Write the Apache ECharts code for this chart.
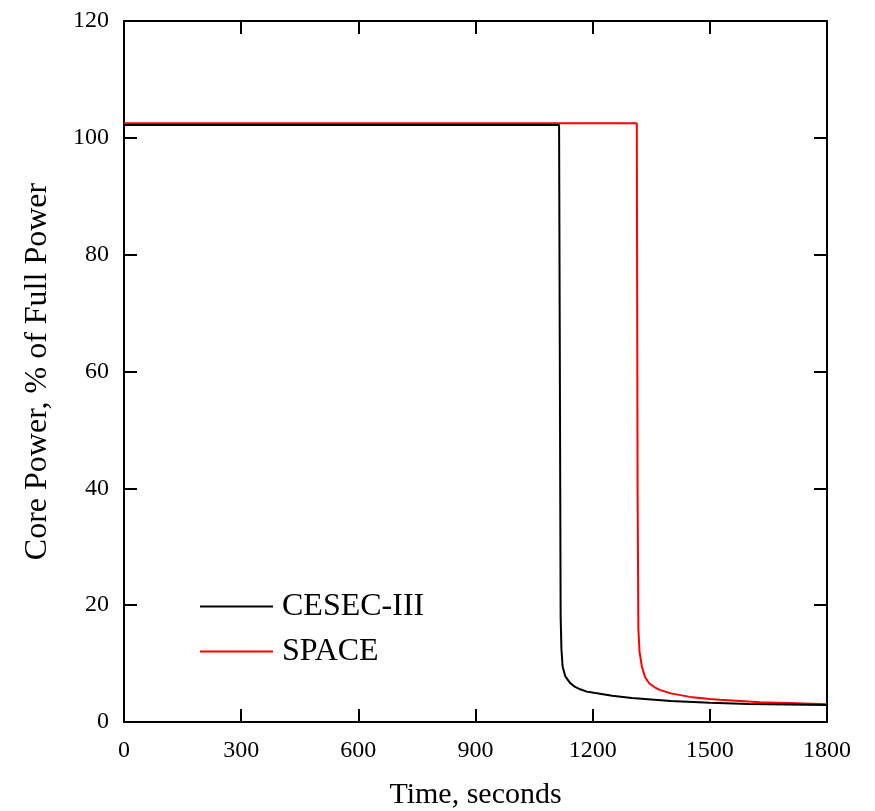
<!DOCTYPE html>
<html>
<head>
<meta charset="utf-8">
<script src="https://cdn.jsdelivr.net/npm/echarts@6/dist/echarts.min.js"></script>
<style>
  html, body { margin: 0; padding: 0; background: #ffffff; }
  #chart { width: 875px; height: 811px; }
</style>
</head>
<body>
<div id="chart"></div>
<script>
// CESEC-III 曲线（时间 s，功率 %）
const cesecTime = [0, 200, 400, 600, 800, 1000, 1114, 1116, 1118, 1120, 1123, 1130, 1142, 1155, 1168, 1185, 1203, 1250, 1300, 1350, 1400, 1500, 1600, 1700, 1800];
const cesecPower = [102.2, 102.2, 102.2, 102.2, 102.2, 102.2, 102.2, 60, 18, 12.5, 9.5, 7.8, 6.7, 6.0, 5.6, 5.2, 5.0, 4.5, 4.1, 3.85, 3.6, 3.3, 3.1, 3.0, 2.9];

// SPACE 曲线
const spaceTime = [0, 400, 800, 1200, 1313, 1315, 1317, 1320, 1326, 1334, 1345, 1360, 1372, 1400, 1449, 1500, 1526, 1600, 1628, 1700, 1800];
const spacePower = [102.5, 102.5, 102.5, 102.5, 102.5, 40, 16, 12, 9.5, 7.7, 6.6, 5.9, 5.5, 4.9, 4.3, 3.95, 3.8, 3.5, 3.4, 3.25, 3.05];

const xTicks = [0, 300, 600, 900, 1200, 1500, 1800];
const yTicks = [0, 20, 40, 60, 80, 100, 120];

const font = '"Liberation Serif", "Times New Roman", serif';
const chart = echarts.init(document.getElementById('chart'), null, { renderer: 'canvas' });

const pairs = (xs, ys) => xs.map((x, i) => [x, ys[i]]);

const axisCommon = {
  type: 'value',
  axisLine: { show: true, onZero: false, lineStyle: { color: '#000', width: 2 } },
  axisTick: { show: true, inside: true, length: 13, lineStyle: { color: '#000', width: 2 } },
  splitLine: { show: false }
};

const option = {
  animation: false,
  backgroundColor: '#ffffff',
  grid: { left: 124, top: 21, width: 703, height: 701, containLabel: false, outerBoundsMode: 'none' },
  legend: {
    orient: 'vertical',
    left: 195,
    top: 584,
    icon: 'rect',
    itemWidth: 73,
    itemHeight: 2,
    itemGap: 10,
    data: ['CESEC-III', 'SPACE'],
    textStyle: { fontFamily: font, fontSize: 32, color: '#000', lineHeight: 35, padding: [0, 0, 0, 4] }
  },
  xAxis: [
    Object.assign({}, axisCommon, {
      min: 0, max: 1800, interval: 300,
      position: 'bottom',
      name: 'Time, seconds',
      nameLocation: 'middle',
      nameGap: 58,
      nameTextStyle: { fontFamily: font, fontSize: 30, color: '#000' },
      axisLabel: {
        fontFamily: font, fontSize: 24, color: '#000', margin: 17,
        formatter: v => xTicks.includes(v) ? String(v) : ''
      }
    }),
    Object.assign({}, axisCommon, {
      min: 0, max: 1800, interval: 300,
      position: 'top',
      axisLabel: { show: false }
    })
  ],
  yAxis: [
    Object.assign({}, axisCommon, {
      min: 0, max: 120, interval: 20,
      position: 'left',
      name: 'Core Power, % of Full Power',
      nameLocation: 'middle',
      nameGap: 70,
      nameTextStyle: { fontFamily: font, fontSize: 32, color: '#000' },
      axisLabel: {
        fontFamily: font, fontSize: 24, color: '#000', margin: 15,
        formatter: v => yTicks.includes(v) ? String(v) : ''
      }
    }),
    Object.assign({}, axisCommon, {
      min: 0, max: 120, interval: 20,
      position: 'right',
      axisLabel: { show: false }
    })
  ],
  series: [
    {
      name: 'CESEC-III',
      type: 'line',
      xAxisIndex: 0,
      yAxisIndex: 0,
      symbol: 'none',
      data: pairs(cesecTime, cesecPower),
      lineStyle: { color: '#000000', width: 2 },
      itemStyle: { color: '#000000' },
      z: 3
    },
    {
      name: 'SPACE',
      type: 'line',
      xAxisIndex: 0,
      yAxisIndex: 0,
      symbol: 'none',
      data: pairs(spaceTime, spacePower),
      lineStyle: { color: '#ff0000', width: 2 },
      itemStyle: { color: '#ff0000' },
      z: 2
    }
  ]
};

chart.setOption(option);
</script>
</body>
</html>
